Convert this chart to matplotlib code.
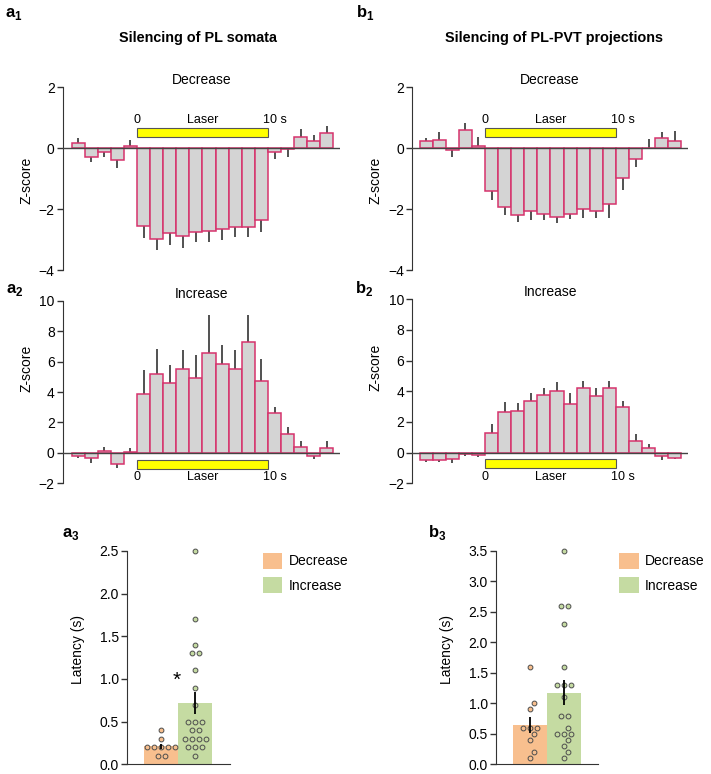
import numpy as np
import matplotlib
matplotlib.use('Agg')
import matplotlib.pyplot as plt
from matplotlib.patches import Rectangle, Patch

plt.rcParams['font.family'] = ['Liberation Sans', 'DejaVu Sans']
plt.rcParams['mathtext.fontset'] = 'custom'
plt.rcParams['mathtext.bf'] = 'Liberation Sans:bold'
plt.rcParams['mathtext.rm'] = 'Liberation Sans'

# time bins (left edge, s) relative to laser onset
bins = np.arange(-5, 15)

# z-score per bin and s.e.m.
a1_mean = [0.16, -0.27, -0.12, -0.38, 0.06, -2.55, -2.97, -2.79, -2.87, -2.75,
           -2.72, -2.63, -2.57, -2.59, -2.34, -0.11, -0.03, 0.37, 0.24, 0.51]
a1_sem = [0.19, 0.19, 0.18, 0.26, 0.22, 0.40, 0.36, 0.37, 0.39, 0.33,
          0.34, 0.39, 0.35, 0.32, 0.39, 0.25, 0.27, 0.26, 0.20, 0.22]

b1_mean = [0.25, 0.26, -0.07, 0.59, 0.07, -1.39, -1.91, -2.20, -2.07, -2.14,
           -2.24, -2.17, -1.98, -2.04, -1.81, -0.96, -0.34, 0.0, 0.33, 0.24]
b1_sem = [0.08, 0.29, 0.23, 0.24, 0.29, 0.30, 0.29, 0.23, 0.28, 0.21,
          0.21, 0.16, 0.30, 0.26, 0.49, 0.42, 0.28, 0.32, 0.22, 0.33]

a2_mean = [-0.18, -0.33, 0.15, -0.73, 0.04, 3.84, 5.17, 4.58, 5.48, 4.91,
           6.56, 5.81, 5.52, 7.26, 4.71, 2.59, 1.25, 0.37, -0.20, 0.35]
a2_sem = [0.17, 0.32, 0.22, 0.24, 0.31, 1.61, 1.68, 1.20, 1.25, 1.51,
          2.50, 1.25, 1.21, 1.82, 1.47, 0.43, 0.42, 0.42, 0.20, 0.41]

b2_mean = [-0.46, -0.46, -0.41, -0.07, -0.13, 1.30, 2.63, 2.74, 3.35, 3.78,
           4.02, 3.15, 4.20, 3.72, 4.20, 3.00, 0.76, 0.33, -0.20, -0.37]
b2_sem = [0.14, 0.14, 0.26, 0.13, 0.15, 0.55, 0.65, 0.52, 0.52, 0.42,
          0.61, 0.72, 0.47, 0.50, 0.47, 0.40, 0.48, 0.25, 0.28, 0.06]

# latency (s) of single units
a3_dec = [0.4, 0.3, 0.2, 0.2, 0.2, 0.2, 0.2, 0.1, 0.1]
a3_inc = [2.5, 1.7, 1.4, 1.3, 1.3, 1.1, 0.9, 0.7, 0.5, 0.5, 0.5, 0.4, 0.4,
          0.3, 0.3, 0.3, 0.3, 0.2, 0.2, 0.2, 0.1]
a3_means = [0.21, 0.72]
a3_sems = [0.03, 0.13]

b3_dec = [1.6, 1.0, 0.9, 0.6, 0.6, 0.6, 0.5, 0.4, 0.2, 0.1]
b3_inc = [3.5, 2.6, 2.6, 2.3, 1.6, 1.3, 1.3, 1.3, 1.1, 0.8, 0.8, 0.6,
          0.5, 0.5, 0.5, 0.4, 0.3, 0.2, 0.1]
b3_means = [0.645, 1.175]
b3_sems = [0.135, 0.21]

groups = ['Decrease', 'Increase']

orange = '#F8BF8E'
green = '#C5DBA2'
bar_grey = '#D4D4D4'
bar_edge = '#D6336C'
dark = '#333333'

W, H = 711, 774
fig = plt.figure(figsize=(W / 100, H / 100), dpi=100)


def px_axes(l, t, r, b):
    return fig.add_axes([l / W, 1 - b / H, (r - l) / W, (b - t) / H])


def hist_panel(ax, mean, sem, title, xlim, ylim, yticks, laser_y, laser_h,
               text_y, title_pad, label_y):
    mean = np.asarray(mean)
    sem = np.asarray(sem)
    ax.set_xlim(*xlim)
    ax.set_ylim(*ylim)
    ax.bar(bins, mean, width=1, align='edge', color=bar_grey,
           edgecolor=bar_edge, linewidth=1.1, zorder=2)
    sign = np.where(mean >= 0, 1, -1)
    ax.vlines(bins + 0.5, mean, mean + sign * sem, color=dark, lw=1.2, zorder=1)
    ax.axhline(0, color='#444444', lw=1, zorder=3)
    ax.add_patch(Rectangle((0, laser_y), 10, laser_h, facecolor='#FFFF00',
                           edgecolor='#555555', lw=0.8, zorder=3))
    ax.text(0, text_y, '0', ha='center', va='center', fontsize=9)
    ax.text(5, text_y, 'Laser', ha='center', va='center', fontsize=9)
    ax.text(10.5, text_y, '10 s', ha='center', va='center', fontsize=9)
    for s in ['top', 'right', 'bottom']:
        ax.spines[s].set_visible(False)
    ax.spines['left'].set_color(dark)
    ax.set_xticks([])
    ax.set_yticks(yticks)
    ax.tick_params(axis='y', direction='out', length=4, width=1,
                   labelsize=10, pad=2, color=dark)
    ax.set_ylabel('Z-score', fontsize=10)
    ax.yaxis.set_label_coords(-0.107, label_y)
    ax.set_title(title, fontsize=10, pad=title_pad)


def swarm_x(ax, center, vals, d=7.0):
    vals = np.asarray(vals, float)
    ypix = ax.transData.transform(np.column_stack([np.zeros_like(vals), vals]))[:, 1]
    x0 = ax.transData.transform([[center, 0]])[0, 0]
    xunit = ax.transData.transform([[center + 1, 0]])[0, 0] - x0
    placed = []
    offs = np.zeros(len(vals))
    for u in np.unique(vals):
        idx = np.where(vals == u)[0]
        y = ypix[idx[0]]
        base = (np.arange(len(idx)) - (len(idx) - 1) / 2) * d
        for k in [0, 1, -1, 2, -2, 3, -3, 4, -4]:
            cand = base + k * d / 2
            ok = all(np.hypot(c - px, y - py) >= d * 0.98
                     for c in cand for px, py in placed)
            if ok:
                break
        placed.extend((c, y) for c in cand)
        offs[idx] = cand
    return center + offs / xunit


def latency_panel(ax, dec, inc, means, sems, ymax, xlim):
    ax.set_xlim(*xlim)
    ax.set_ylim(0, ymax)
    cols = [orange, green]
    ax.bar([0, 1], means, width=1, color=cols, zorder=1)
    for i, vals in enumerate([dec, inc]):
        xs = swarm_x(ax, i, vals)
        ax.scatter(xs, vals, s=12, facecolor=cols[i], edgecolor='#4D4D4D',
                   linewidths=0.7, zorder=3, clip_on=False)
    m = np.asarray(means)
    s = np.asarray(sems)
    ax.vlines([0, 1], m - s, m + s, color='black', lw=1.3, zorder=4)
    for sp in ['top', 'right']:
        ax.spines[sp].set_visible(False)
    ax.spines['left'].set_color(dark)
    ax.spines['bottom'].set_color(dark)
    ax.set_xticks([])
    ax.set_yticks(np.arange(0, ymax + 0.01, 0.5))
    ax.set_yticklabels(['%.1f' % v for v in np.arange(0, ymax + 0.01, 0.5)])
    ax.tick_params(axis='y', direction='out', length=4, width=1,
                   labelsize=10, pad=2, color=dark)
    ax.set_ylabel('Latency (s)', fontsize=10)
    ax.yaxis.set_label_coords(-0.41, 0.536)


ax_a1 = px_axes(63, 87.3, 340, 270.3)
hist_panel(ax_a1, a1_mean, a1_sem, 'Decrease', (-5.65, 15.5), (-4, 2),
           [-4, -2, 0, 2], 0.38, 0.28, 0.92, 2, 0.49)
ax_b1 = px_axes(412.3, 87.3, 688, 270.3)
hist_panel(ax_b1, b1_mean, b1_sem, 'Decrease', (-5.55, 15.5), (-4, 2),
           [-4, -2, 0, 2], 0.38, 0.28, 0.92, 2, 0.49)
ax_a2 = px_axes(63, 300.7, 340, 483.3)
hist_panel(ax_a2, a2_mean, a2_sem, 'Increase', (-5.65, 15.5), (-2, 10),
           [-2, 0, 2, 4, 6, 8, 10], -1.03, 0.59, -1.58, 0, 0.63)
ax_b2 = px_axes(412.3, 299.3, 688, 483.3)
hist_panel(ax_b2, b2_mean, b2_sem, 'Increase', (-5.55, 15.5), (-2, 10),
           [-2, 0, 2, 4, 6, 8, 10], -1.02, 0.59, -1.57, 0, 0.63)

ax_a3 = px_axes(127.3, 551, 230, 764.3)
latency_panel(ax_a3, a3_dec, a3_inc, a3_means, a3_sems, 2.5, (-1.0, 2.02))
ax_a3.text(0.45, 0.99, '*', ha='center', va='center', fontsize=15)
ax_b3 = px_axes(496, 551, 598.3, 764.3)
latency_panel(ax_b3, b3_dec, b3_inc, b3_means, b3_sems, 3.5, (-1.01, 2.0))

for ax, (lx, ly) in [(ax_a3, (262.7, 552.7)), (ax_b3, (619.3, 552.7))]:
    handles = [Patch(facecolor=c, edgecolor='none', label=g)
               for c, g in zip([orange, green], groups)]
    ax.legend(handles=handles, loc='upper left',
              bbox_to_anchor=(lx / W, 1 - ly / H), bbox_transform=fig.transFigure,
              frameon=False, fontsize=10, handlelength=1.4, handleheight=1.4,
              handletextpad=0.45, labelspacing=0.6, borderpad=0, borderaxespad=0)

# headers and panel letters
fig.text(198 / W, 1 - 42 / H, 'Silencing of PL somata', ha='center',
         va='baseline', fontsize=10.4, fontweight='bold')
fig.text(554 / W, 1 - 42 / H, 'Silencing of PL-PVT projections', ha='center',
         va='baseline', fontsize=10.4, fontweight='bold')

for x, y, letter, num in [(5, 17.5, 'a', 1), (356, 17.5, 'b', 1),
                          (6, 293, 'a', 2), (355, 293, 'b', 2),
                          (62, 537, 'a', 3), (428, 537, 'b', 3)]:
    fig.text(x / W, 1 - y / H, r'$\mathbf{%s}_\mathbf{%d}$' % (letter, num),
             fontsize=12, va='baseline', ha='left')

fig.savefig('out.png', dpi=100)
